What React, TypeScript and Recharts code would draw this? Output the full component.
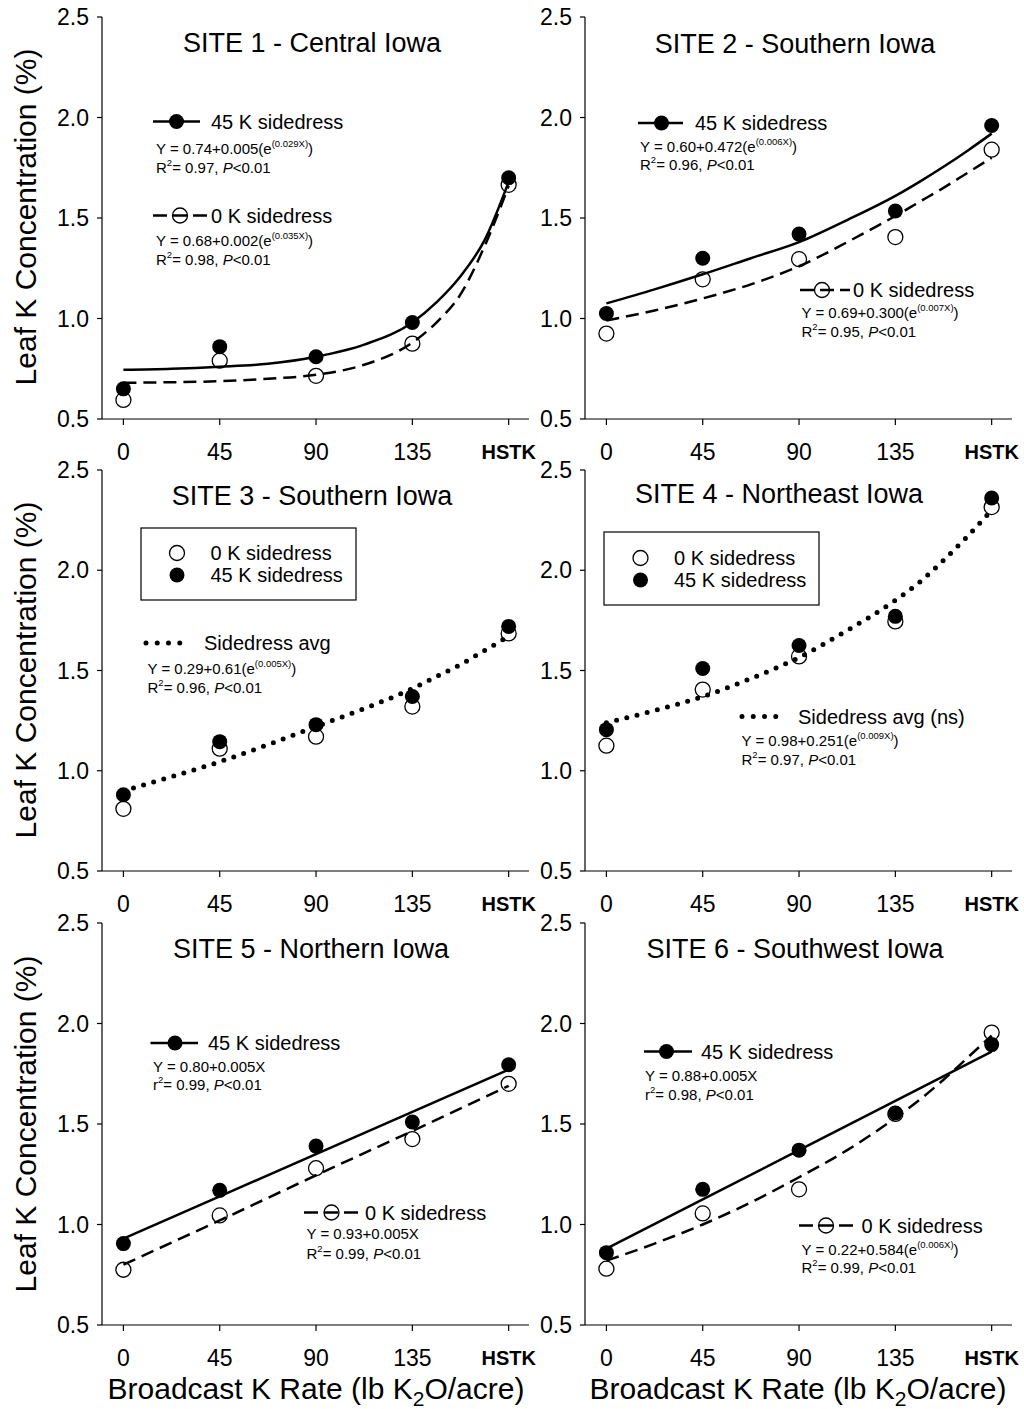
import React from 'react'
import { ComposedChart, Line, Scatter, XAxis, YAxis } from 'recharts'

const FONT = "'Liberation Sans', Arial, Helvetica, sans-serif"

// broadcast K rates, HSTK plotted at 180
const rates = [0, 45, 90, 135, 180]
const fitX = [0, 22.5, 45, 67.5, 90, 112.5, 135, 146.25, 157.5, 168.75, 180]
const yTicks = [0.5, 1.0, 1.5, 2.0, 2.5]

// Site 1 - Central Iowa
const site1K45 = [0.65, 0.86, 0.81, 0.98, 1.7]
const site1K0 = [0.595, 0.79, 0.715, 0.875, 1.665]
const site1Fit45 = [0.745, 0.75, 0.76, 0.775, 0.81, 0.87, 0.98, 1.08, 1.21, 1.39, 1.68]
const site1Fit0 = [0.68, 0.683, 0.688, 0.7, 0.72, 0.77, 0.88, 0.98, 1.12, 1.36, 1.66]

// Site 2 - Southern Iowa
const site2K45 = [1.025, 1.3, 1.42, 1.535, 1.96]
const site2K0 = [0.925, 1.195, 1.295, 1.405, 1.84]
const site2Fit45 = [1.075, 1.145, 1.22, 1.3, 1.38, 1.49, 1.61, 1.68, 1.755, 1.835, 1.92]
const site2Fit0 = [0.99, 1.04, 1.1, 1.17, 1.26, 1.38, 1.51, 1.58, 1.65, 1.725, 1.8]

// Site 3 - Southern Iowa
const site3K45 = [0.88, 1.145, 1.23, 1.37, 1.72]
const site3K0 = [0.81, 1.11, 1.17, 1.32, 1.685]
const site3FitAvg = [0.9, 0.97, 1.045, 1.13, 1.22, 1.31, 1.41, 1.47, 1.53, 1.6, 1.67]

// Site 4 - Northeast Iowa
const site4K45 = [1.205, 1.51, 1.625, 1.77, 2.36]
const site4K0 = [1.125, 1.405, 1.57, 1.745, 2.315]
const site4FitAvg = [1.24, 1.3, 1.37, 1.46, 1.565, 1.7, 1.85, 1.94, 2.05, 2.17, 2.3]

// Site 5 - Northern Iowa (linear fits)
const site5K45 = [0.905, 1.17, 1.39, 1.51, 1.795]
const site5K0 = [0.775, 1.045, 1.28, 1.425, 1.7]
const site5Fit45 = [0.93, 1.14, 1.35, 1.56, 1.77]
const site5Fit0 = [0.8, 1.02, 1.245, 1.465, 1.69]

// Site 6 - Southwest Iowa
const site6K45 = [0.86, 1.175, 1.37, 1.555, 1.895]
const site6K0 = [0.78, 1.055, 1.175, 1.55, 1.955]
const site6Fit45 = [0.88, 1.125, 1.37, 1.615, 1.86]
const site6Fit0 = [0.82, 0.905, 1.0, 1.11, 1.235, 1.37, 1.53, 1.62, 1.72, 1.83, 1.94]

const pts = (xs: number[], ys: number[]) => xs.map((x, i) => ({ x, y: ys[i] }))

const W = 427
const ML = 60
const MT = 15
const MR = 35
const XH = 45
const R = 7.5

type Kind = 'solid' | 'dashed' | 'dotted'

const lineStyle = (kind: Kind) => {
  if (kind === 'dashed') return { strokeWidth: 2.5, strokeDasharray: '13 7' }
  if (kind === 'dotted') return { strokeWidth: 5, strokeDasharray: '0 10.5', strokeLinecap: 'round' as const }
  return { strokeWidth: 2.5 }
}

const FilledDot = (p: any) => <circle cx={p.cx} cy={p.cy} r={R} fill="#000" />
const OpenDot = (p: any) => <circle cx={p.cx} cy={p.cy} r={R} fill="none" stroke="#000" strokeWidth={1.3} />

const XTick = (props: any) => {
  const { x, y, payload } = props
  const hstk = payload.value === 180
  const fs = hstk ? 20 : 23
  return (
    <text
      x={x}
      y={y + 27 + 0.358 * fs}
      textAnchor="middle"
      fontFamily={FONT}
      fontSize={fs}
      fontWeight={hstk ? 'bold' : 'normal'}
      fill="#000"
    >
      {hstk ? 'HSTK' : payload.value}
    </text>
  )
}

interface PanelProps {
  left: number
  top: number
  h: number
  filled: number[]
  open: number[]
  curves: { xs: number[]; ys: number[]; kind: Kind; smooth: boolean }[]
}

function Panel({ left, top, h, filled, open, curves }: PanelProps) {
  return (
    <div style={{ position: 'absolute', left: left - ML, top: top - MT }}>
      <ComposedChart width={ML + W + MR} height={MT + h + XH} margin={{ top: MT, right: MR, bottom: 0, left: 0 }}>
        <XAxis
          dataKey="x"
          type="number"
          domain={[-10, 189.5]}
          ticks={rates}
          interval={0}
          tick={<XTick />}
          tickSize={6}
          tickMargin={0}
          height={XH}
          allowDataOverflow
          axisLine={{ stroke: '#000', strokeWidth: 1.2 }}
          tickLine={{ stroke: '#000', strokeWidth: 1.2 }}
        />
        <XAxis
          xAxisId="top"
          orientation="top"
          type="number"
          domain={[-10, 189.5]}
          height={0}
          tick={false}
          tickLine={false}
          allowDataOverflow
          axisLine={{ stroke: '#000', strokeWidth: 1.2 }}
        />
        <YAxis
          type="number"
          domain={[0.5, 2.5]}
          ticks={yTicks}
          interval={0}
          width={ML}
          tickSize={5}
          tickMargin={8}
          tickFormatter={(v: number) => v.toFixed(1)}
          tick={{ fontSize: 23, fill: '#000', fontFamily: FONT }}
          allowDataOverflow
          axisLine={{ stroke: '#000', strokeWidth: 1.2 }}
          tickLine={{ stroke: '#000', strokeWidth: 1.2 }}
        />
        <YAxis
          yAxisId="right"
          orientation="right"
          mirror
          type="number"
          domain={[0.5, 2.5]}
          ticks={yTicks}
          interval={0}
          width={0}
          tickSize={5}
          tickFormatter={() => ''}
          allowDataOverflow
          axisLine={{ stroke: '#000', strokeWidth: 1.2 }}
          tickLine={{ stroke: '#000', strokeWidth: 1.2 }}
        />
        {curves.map((c, i) => (
          <Line
            key={`fit-${i}`}
            data={pts(c.xs, c.ys)}
            dataKey="y"
            type={c.smooth ? 'monotone' : 'linear'}
            stroke="#000"
            {...lineStyle(c.kind)}
            dot={false}
            activeDot={false}
            isAnimationActive={false}
          />
        ))}
        <Scatter data={pts(rates, open)} dataKey="y" shape={OpenDot} isAnimationActive={false} />
        <Scatter data={pts(rates, filled)} dataKey="y" shape={FilledDot} isAnimationActive={false} />
      </ComposedChart>
    </div>
  )
}

// text whose cap height is centred on y
const T = ({ x, y, fs, anchor = 'start', weight = 'normal', children }: any) => (
  <text x={x} y={y + 0.358 * fs} fontSize={fs} textAnchor={anchor} fontWeight={weight} fontFamily={FONT} fill="#000">
    {children}
  </text>
)

const EQ = 15
const SUP = 9.5

const Eq = ({ x, y, a, e }: { x: number; y: number; a: string; e: string }) => (
  <T x={x} y={y} fs={EQ}>
    {a}(e<tspan fontSize={SUP} dy={-7}>{e}</tspan>
    <tspan dy={7}>)</tspan>
  </T>
)

const Stat = ({ x, y, v, lower }: { x: number; y: number; v: string; lower?: boolean }) => (
  <T x={x} y={y} fs={EQ}>
    {lower ? 'r' : 'R'}
    <tspan fontSize={SUP} dy={-7}>2</tspan>
    <tspan dy={7}>= {v}, </tspan>
    <tspan fontStyle="italic">P</tspan>
    {'<0.01'}
  </T>
)

const SolidKey = ({ x1, x2, cx, y }: any) => (
  <g>
    <line x1={x1} x2={x2} y1={y} y2={y} stroke="#000" strokeWidth={2.5} />
    <circle cx={cx} cy={y} r={R} fill="#000" />
  </g>
)

const DashKey = ({ x1, x2, cx, y }: any) => (
  <g>
    <line x1={x1} x2={x2} y1={y} y2={y} stroke="#000" strokeWidth={2.5} strokeDasharray="14 6" />
    <circle cx={cx} cy={y} r={R} fill="none" stroke="#000" strokeWidth={1.3} />
  </g>
)

const DotKey = ({ x1, x2, y }: any) => (
  <line x1={x1} x2={x2} y1={y} y2={y} stroke="#000" strokeWidth={5} strokeDasharray="0 11.25" strokeLinecap="round" />
)

const BoxKey = ({ x, y, w, h, cx, tx, y1, y2 }: any) => (
  <g>
    <rect x={x} y={y} width={w} height={h} fill="none" stroke="#000" strokeWidth={1.2} />
    <circle cx={cx} cy={y1} r={R} fill="none" stroke="#000" strokeWidth={1.3} />
    <T x={tx} y={y1} fs={20}>0 K sidedress</T>
    <circle cx={cx} cy={y2} r={R} fill="#000" />
    <T x={tx} y={y2} fs={20}>45 K sidedress</T>
  </g>
)

const YTitle = ({ cy }: { cy: number }) => (
  <text
    x={36}
    y={cy}
    transform={`rotate(-90 36 ${cy})`}
    textAnchor="middle"
    fontSize={30}
    fontFamily={FONT}
    fill="#000"
  >
    Leaf K Concentration (%)
  </text>
)

const XTitle = ({ cx }: { cx: number }) => (
  <T x={cx} y={1388} fs={30} anchor="middle">
    Broadcast K Rate (lb K<tspan dy={7} fontSize={21}>2</tspan>
    <tspan dy={-7}>O/acre)</tspan>
  </T>
)

function Overlay() {
  return (
    <svg width={1024} height={1409} style={{ position: 'absolute', left: 0, top: 0, pointerEvents: 'none' }}>
      <YTitle cy={217} />
      <YTitle cy={670} />
      <YTitle cy={1124} />
      <XTitle cx={316} />
      <XTitle cx={798} />

      {/* Site 1 */}
      <T x={312} y={42} fs={27} anchor="middle">SITE 1 - Central Iowa</T>
      <SolidKey x1={153} x2={200} cx={176.5} y={121.5} />
      <T x={211} y={121.5} fs={20}>45 K sidedress</T>
      <Eq x={156} y={149} a="Y = 0.74+0.005" e="(0.029X)" />
      <Stat x={156} y={168} v="0.97" />
      <DashKey x1={153} x2={207} cx={180} y={215.5} />
      <T x={211} y={215.5} fs={20}>0 K sidedress</T>
      <Eq x={156} y={241} a="Y = 0.68+0.002" e="(0.035X)" />
      <Stat x={156} y={260} v="0.98" />

      {/* Site 2 */}
      <T x={795} y={43} fs={27} anchor="middle">SITE 2 - Southern Iowa</T>
      <SolidKey x1={638} x2={683} cx={661.5} y={123} />
      <T x={695} y={123} fs={20}>45 K sidedress</T>
      <Eq x={640} y={147} a="Y = 0.60+0.472" e="(0.006X)" />
      <Stat x={640} y={165} v="0.96" />
      <DashKey x1={800} x2={850} cx={822} y={290} />
      <T x={853} y={290} fs={20}>0 K sidedress</T>
      <Eq x={801.5} y={313} a="Y = 0.69+0.300" e="(0.007X)" />
      <Stat x={801.5} y={332} v="0.95" />

      {/* Site 3 */}
      <T x={312} y={495} fs={27} anchor="middle">SITE 3 - Southern Iowa</T>
      <BoxKey x={141} y={528} w={215} h={72} cx={177} tx={210.5} y1={553} y2={575} />
      <DotKey x1={146} x2={191} y={643} />
      <T x={204} y={643} fs={20}>Sidedress avg</T>
      <Eq x={147.5} y={669} a="Y = 0.29+0.61" e="(0.005X)" />
      <Stat x={147.5} y={688} v="0.96" />

      {/* Site 4 */}
      <T x={779} y={493} fs={27} anchor="middle">SITE 4 - Northeast Iowa</T>
      <BoxKey x={604} y={532} w={215} h={73} cx={640.5} tx={674} y1={558} y2={580} />
      <DotKey x1={742} x2={787} y={716.5} />
      <T x={798} y={716.5} fs={20}>Sidedress avg (ns)</T>
      <Eq x={741.5} y={741} a="Y = 0.98+0.251" e="(0.009X)" />
      <Stat x={741.5} y={760} v="0.97" />

      {/* Site 5 */}
      <T x={311} y={948} fs={27} anchor="middle">SITE 5 - Northern Iowa</T>
      <SolidKey x1={150.5} x2={198} cx={175} y={1043} />
      <T x={208} y={1043} fs={20}>45 K sidedress</T>
      <T x={153} y={1066.5} fs={EQ}>Y = 0.80+0.005X</T>
      <Stat x={153} y={1085} v="0.99" lower />
      <DashKey x1={304} x2={360} cx={331.5} y={1212.5} />
      <T x={365} y={1212.5} fs={20}>0 K sidedress</T>
      <T x={306.5} y={1234} fs={EQ}>Y = 0.93+0.005X</T>
      <Stat x={306.5} y={1254} v="0.99" />

      {/* Site 6 */}
      <T x={795} y={948} fs={27} anchor="middle">SITE 6 - Southwest Iowa</T>
      <SolidKey x1={644} x2={692} cx={666.5} y={1051.5} />
      <T x={701} y={1051.5} fs={20}>45 K sidedress</T>
      <T x={645} y={1075.5} fs={EQ}>Y = 0.88+0.005X</T>
      <Stat x={645} y={1095} v="0.98" lower />
      <DashKey x1={799} x2={855} cx={826} y={1225.5} />
      <T x={861.5} y={1225.5} fs={20}>0 K sidedress</T>
      <Eq x={801.5} y={1249.5} a="Y = 0.22+0.584" e="(0.006X)" />
      <Stat x={801.5} y={1268} v="0.99" />
    </svg>
  )
}

export default function App() {
  return (
    <div style={{ position: 'absolute', left: 0, top: 0, width: 1024, height: 1409, background: '#fff', fontFamily: FONT }}>
      <Panel
        left={102}
        top={17}
        h={402}
        filled={site1K45}
        open={site1K0}
        curves={[
          { xs: fitX, ys: site1Fit0, kind: 'dashed', smooth: true },
          { xs: fitX, ys: site1Fit45, kind: 'solid', smooth: true },
        ]}
      />
      <Panel
        left={585}
        top={17}
        h={402}
        filled={site2K45}
        open={site2K0}
        curves={[
          { xs: fitX, ys: site2Fit0, kind: 'dashed', smooth: true },
          { xs: fitX, ys: site2Fit45, kind: 'solid', smooth: true },
        ]}
      />
      <Panel
        left={102}
        top={470}
        h={401}
        filled={site3K45}
        open={site3K0}
        curves={[{ xs: fitX, ys: site3FitAvg, kind: 'dotted', smooth: true }]}
      />
      <Panel
        left={585}
        top={470}
        h={401}
        filled={site4K45}
        open={site4K0}
        curves={[{ xs: fitX, ys: site4FitAvg, kind: 'dotted', smooth: true }]}
      />
      <Panel
        left={102}
        top={923}
        h={402}
        filled={site5K45}
        open={site5K0}
        curves={[
          { xs: rates, ys: site5Fit0, kind: 'dashed', smooth: false },
          { xs: rates, ys: site5Fit45, kind: 'solid', smooth: false },
        ]}
      />
      <Panel
        left={585}
        top={923}
        h={402}
        filled={site6K45}
        open={site6K0}
        curves={[
          { xs: fitX, ys: site6Fit0, kind: 'dashed', smooth: true },
          { xs: rates, ys: site6Fit45, kind: 'solid', smooth: false },
        ]}
      />
      <Overlay />
    </div>
  )
}
